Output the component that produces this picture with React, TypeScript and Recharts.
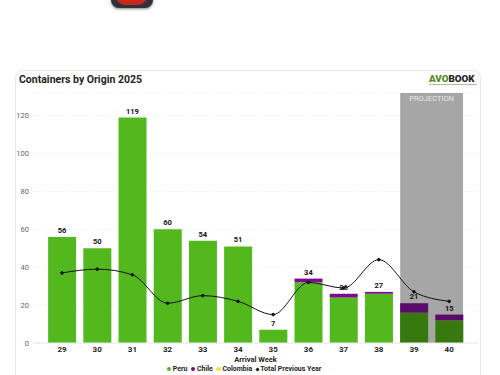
import React from "react"
import { Bar, Cell, ComposedChart, CartesianGrid, Legend, LabelList, Line, ReferenceArea, XAxis, YAxis } from "recharts"

const weeks = ["29", "30", "31", "32", "33", "34", "35", "36", "37", "38", "39", "40"]
const peru = [56, 50, 119, 60, 54, 51, 7, 32, 24, 26, 16, 12]
const chile = [0, 0, 0, 0, 0, 0, 0, 2, 2, 1, 5, 3]
const colombia = [0, 0, 0, 0, 0, 0, 0, 0, 0, 0, 0, 0]
const totals = [56, 50, 119, 60, 54, 51, 7, 34, 26, 27, 21, 15]
const previousYear = [37, 39, 36, 21, 25, 22, 15, 32, 29, 44, 27, 22]
const yTicks = [0, 20, 40, 60, 80, 100, 120]
const projectedWeeks = ["39", "40"]

const data = weeks.map((week, i) => ({
  week,
  peru: peru[i],
  chile: chile[i],
  colombia: colombia[i],
  total: totals[i],
  previous: previousYear[i],
}))

const font = "Roboto, sans-serif"

// shaded block sits flush with the outer edges of the two bars
const ProjectionShade = (props: any) => {
  const inset = 3.8
  return (
    <g>
      <rect x={props.x + inset} y={props.y} width={props.width - inset * 2} height={props.height} fill="#a6a6a6" />
      <text x={props.x + props.width / 2} y={props.y + 8} textAnchor="middle" fontSize={7.5} fill="#e8e8e8" fontFamily={font}>
        PROJECTION
      </text>
    </g>
  )
}

const LegendRow = () => {
  const items = [
    { name: "Peru", color: "#52b81e", mark: "dot" },
    { name: "Chile", color: "#7a0c8c", mark: "dot" },
    { name: "Colombia", color: "#f2e44a", mark: "dot" },
    { name: "Total Previous Year", color: "#111", mark: "diamond" },
  ]
  return (
    <div style={{ display: "flex", justifyContent: "center", gap: 3.5, height: 12, lineHeight: "13px", fontSize: 7, fontWeight: 700, color: "#252423", fontFamily: font }}>
      {items.map((item) => (
        <span key={item.name} style={{ display: "flex", alignItems: "center", gap: 1.5 }}>
          <span
            style={{
              width: item.mark === "dot" ? 4.5 : 3,
              height: item.mark === "dot" ? 4.5 : 3,
              borderRadius: item.mark === "dot" ? "50%" : 0,
              transform: item.mark === "dot" ? undefined : "rotate(45deg)",
              background: item.color,
            }}
          />
          {item.name}
        </span>
      ))}
    </div>
  )
}

export default function App() {
  return (
    <div style={{ position: "absolute", left: 0, top: 0, width: 500, height: 375, overflow: "hidden", background: "#fff", fontFamily: font }}>
      <div
        style={{
          position: "absolute",
          left: 111,
          top: -30,
          width: 42,
          height: 38,
          borderRadius: 8,
          background: "#2f3039",
          boxShadow: "0 1px 3px rgba(0,0,0,0.5)",
        }}
      >
        <div style={{ position: "absolute", left: 4, top: 0, width: 33, height: 35, borderRadius: 11, background: "#c8281a" }} />
      </div>

      <div
        style={{
          position: "absolute",
          left: 15,
          top: 70,
          width: 466,
          height: 320,
          boxSizing: "border-box",
          border: "1px solid #e8e8e8",
          borderRadius: 8,
        }}
      />
      <div style={{ position: "absolute", left: 19, top: 72, fontSize: 10.5, lineHeight: "16px", fontWeight: 700, color: "#252423" }}>
        Containers by Origin 2025
      </div>
      <div style={{ position: "absolute", left: 429, top: 73, fontSize: 9.8, lineHeight: "11px", fontWeight: 900, whiteSpace: "nowrap" }}>
        <span style={{ color: "#4d8a1f" }}>AVO</span>
        <span style={{ color: "#222" }}>BOOK</span>
      </div>
      <div style={{ position: "absolute", left: 429, top: 84, width: 48, height: 1, background: "#a9c296" }} />

      <div style={{ position: "absolute", left: 0, top: 0 }}>
        <ComposedChart
          width={500}
          height={375}
          data={data}
          margin={{ top: 93, right: 22, bottom: 0, left: 10 }}
          barCategoryGap="10.6%"
        >
          <CartesianGrid vertical={false} stroke="#e4e4e4" strokeDasharray="1 2" />
          <XAxis
            dataKey="week"
            height={20}
            padding={{ left: 11.4, right: 11.2 }}
            tickLine={false}
            tickSize={0}
            axisLine={{ stroke: "#e8e8e8" }}
            tick={{ fontSize: 8, fontWeight: 700, fill: "#252423", fontFamily: font }}
            tickMargin={3}
            label={{ value: "Arrival Week", position: "insideBottom", offset: 1, fontSize: 7.5, fontWeight: 700, fill: "#252423", fontFamily: font }}
            interval={0}
          />
          <YAxis
            width={23}
            domain={[0, 132]}
            ticks={yTicks}
            tickLine={false}
            tickSize={0}
            axisLine={false}
            tickMargin={4}
            tick={{ fontSize: 7.5, fill: "#666", fontFamily: font }}
          />
          <ReferenceArea x1="39" x2="40" ifOverflow="visible" shape={ProjectionShade} />
          <Bar dataKey="peru" name="Peru" stackId="a" fill="#52b81e" isAnimationActive={false}>
            {weeks.map((week) => (
              <Cell key={week} fill={projectedWeeks.includes(week) ? "#37790f" : "#52b81e"} />
            ))}
          </Bar>
          <Bar dataKey="chile" name="Chile" stackId="a" fill="#7a0c8c" isAnimationActive={false}>
            {weeks.map((week) => (
              <Cell key={week} fill={projectedWeeks.includes(week) ? "#5a0a68" : "#7a0c8c"} />
            ))}
          </Bar>
          <Bar dataKey="colombia" name="Colombia" stackId="a" fill="#f2e44a" isAnimationActive={false} />
          <Line dataKey="total" stroke="none" dot={false} isAnimationActive={false}>
            <LabelList dataKey="total" position="top" offset={4} fontSize={7.5} fontWeight={700} fill="#111" fontFamily={font} />
          </Line>
          <Line
            dataKey="previous"
            name="Total Previous Year"
            type="monotone"
            stroke="#111"
            strokeWidth={1}
            dot={{ r: 1.3, fill: "#111", stroke: "#111" }}
            isAnimationActive={false}
          />
          <Legend height={12} content={LegendRow} />
        </ComposedChart>
      </div>
    </div>
  )
}
